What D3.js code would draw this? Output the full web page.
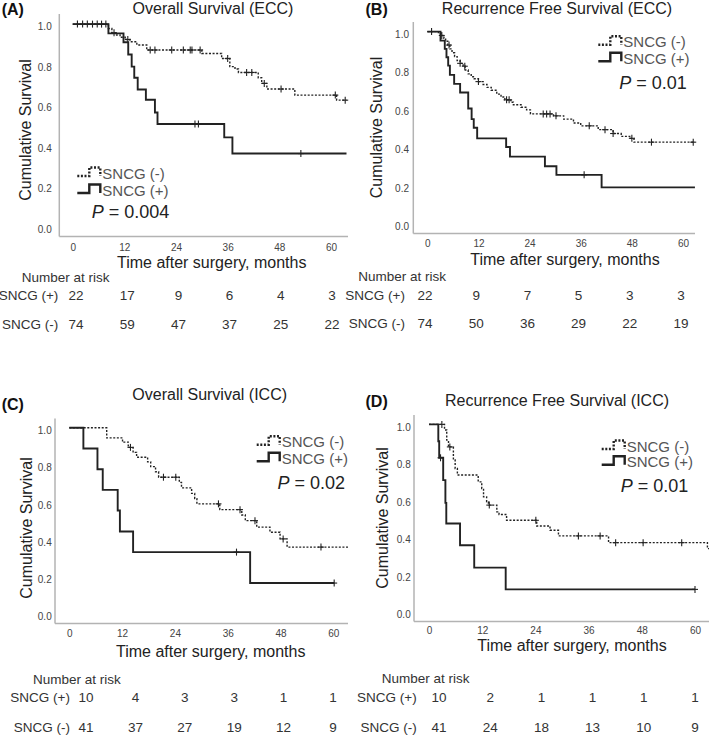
<!DOCTYPE html>
<html><head><meta charset="utf-8">
<script src="https://cdn.jsdelivr.net/npm/d3@7"></script>
<style>
html,body{margin:0;padding:0;background:#fff;}
svg text{font-family:"Liberation Sans", Arial, sans-serif;}
</style></head><body>
<svg id="chart" width="709" height="736"></svg>
<script>
// ---------------- DATA ----------------
const monthTicks = [0, 12, 24, 36, 48, 60];
const survTicks = [0, 0.2, 0.4, 0.6, 0.8, 1.0];
const panelLetters = ["(A)", "(B)", "(C)", "(D)"];
const panelTitles = ["Overall Survival (ECC)", "Recurrence Free Survival (ECC)", "Overall Survival (ICC)", "Recurrence Free Survival (ICC)"];
const pValues = ["0.004", "0.01", "0.02", "0.01"];
const groupLabels = ["SNCG (-)", "SNCG (+)"];
const riskRowLabels = ["SNCG (+)", "SNCG (-)"];
const xAxisTitle = "Time after surgery, months";
const yAxisTitle = "Cumulative Survival";
const riskTitle = "Number at risk";

// Panel A: Overall Survival (ECC)
const aNegTimes = [8.3, 9.1, 10.2, 11.0, 12.2, 13.3, 14.9, 17.2, 30.0, 34.6, 36.5, 37.7, 38.5, 43.1, 43.9, 45.1, 51.6, 61.3];
const aNegSurv  = [0.978, 0.957, 0.946, 0.935, 0.924, 0.913, 0.897, 0.872, 0.855, 0.83, 0.79, 0.778, 0.761, 0.735, 0.707, 0.679, 0.649, 0.624];
const aNegCensor = [1.1, 2.3, 3.4, 4.6, 5.7, 6.7, 7.7, 9.6, 12.8, 18.0, 19.1, 23.0, 25.7, 27.3, 27.7, 29.6, 36.0, 40.4, 41.6, 44.5, 48.4, 61.0, 63.3];
const aPosTimes = [8.3, 11.8, 12.9, 13.7, 14.3, 15.1, 17.0, 19.1, 19.7, 35.2, 37.1];
const aPosSurv  = [0.954, 0.91, 0.85, 0.79, 0.735, 0.677, 0.626, 0.563, 0.506, 0.44, 0.36];
const aPosCensor = [28.4, 29.2, 53.0];
const aEnd = 63.6;
const riskAPos = [22, 17, 9, 6, 4, 3];
const riskANeg = [74, 59, 47, 37, 25, 22];

// Panel B: Recurrence Free Survival (ECC)
const bNegTimes = [2.6, 3.4, 3.9, 4.3, 4.8, 5.3, 5.8, 6.4, 7.0, 7.7, 8.4, 8.9, 9.6, 10.3, 11.0, 12.0, 13.1, 14.0, 15.0, 16.3, 17.3, 18.2, 19.6, 20.2, 22.0, 23.3, 24.2, 29.6, 32.0, 34.3, 36.0, 40.1, 43.6, 45.5, 47.5, 48.5];
const bNegSurv  = [0.99, 0.98, 0.965, 0.95, 0.93, 0.91, 0.89, 0.87, 0.85, 0.835, 0.82, 0.80, 0.78, 0.765, 0.755, 0.74, 0.725, 0.71, 0.695, 0.675, 0.66, 0.645, 0.633, 0.62, 0.607, 0.593, 0.572, 0.562, 0.545, 0.525, 0.51, 0.49, 0.47, 0.455, 0.445, 0.425];
const bNegCensor = [1.0, 3.4, 5.1, 7.7, 8.8, 12.0, 18.6, 19.2, 27.2, 28.0, 28.8, 30.2, 38.0, 41.7, 43.6, 48.0, 52.6, 62.4];
const bPosTimes = [3.1, 4.1, 4.5, 4.9, 5.3, 6.3, 7.7, 9.6, 10.4, 10.9, 11.7, 18.5, 19.4, 27.6, 30.3, 40.9];
const bPosSurv  = [0.953, 0.91, 0.867, 0.823, 0.775, 0.728, 0.683, 0.60, 0.545, 0.50, 0.445, 0.40, 0.35, 0.30, 0.255, 0.19];
const bPosCensor = [36.8];
const bEnd = 62.8;
const riskBPos = [22, 9, 7, 5, 3, 3];
const riskBNeg = [74, 50, 36, 29, 22, 19];

// Panel C: Overall Survival (ICC)
const cNegTimes = [8.5, 12.1, 13.4, 14.5, 15.3, 17.8, 18.5, 19.6, 20.3, 25.0, 25.5, 27.8, 28.5, 29.0, 34.2, 39.2, 40.0, 42.6, 45.6, 47.9, 49.5];
const cNegSurv  = [0.946, 0.923, 0.895, 0.868, 0.842, 0.817, 0.792, 0.764, 0.735, 0.707, 0.678, 0.648, 0.62, 0.592, 0.561, 0.532, 0.502, 0.467, 0.44, 0.404, 0.36];
const cNegCensor = [13.9, 21.4, 24.2, 33.9, 38.8, 42.2, 48.6, 57.2];
const cPosTimes = [3.2, 6.4, 7.6, 11.0, 11.5, 14.5, 41.1];
const cPosSurv  = [0.889, 0.778, 0.667, 0.556, 0.444, 0.333, 0.167];
const cPosCensor = [38.0, 60.2];
const cNegEnd = 63.4, cPosEnd = 60.2;
const riskCPos = [10, 4, 3, 3, 1, 1];
const riskCNeg = [41, 37, 27, 19, 12, 9];

// Panel D: Recurrence Free Survival (ICC)
const dNegTimes = [3.5, 4.0, 4.4, 5.5, 5.9, 6.4, 11.1, 11.9, 12.3, 13.0, 13.4, 15.3, 15.8, 17.5, 24.3, 27.3, 29.2, 40.5, 62.8];
const dNegSurv  = [0.97, 0.916, 0.88, 0.81, 0.765, 0.73, 0.694, 0.658, 0.614, 0.587, 0.57, 0.534, 0.52, 0.489, 0.459, 0.436, 0.406, 0.37, 0.338];
const dNegCensor = [2.9, 4.7, 13.6, 24.1, 33.7, 38.6, 42.1, 48.3, 57.0];
const dPosTimes = [2.1, 2.3, 3.2, 3.7, 3.9, 7.0, 10.2, 17.3];
const dPosSurv  = [0.91, 0.822, 0.703, 0.582, 0.472, 0.356, 0.237, 0.121];
const dPosCensor = [2.6, 60.0];
const dNegEnd = 63.3, dPosEnd = 60.0;
const riskDPos = [10, 2, 1, 1, 1, 1];
const riskDNeg = [41, 24, 18, 13, 10, 9];

// ---------------- LAYOUT ----------------
const panels = [
  {neg:{t:aNegTimes,s:aNegSurv,c:aNegCensor,end:aEnd}, pos:{t:aPosTimes,s:aPosSurv,c:aPosCensor,end:aEnd}, risk:[riskAPos,riskANeg],
   yAxisX:59.3, xRight:348, xZero:72.7, x60:331, yBottom:236.5, yTop:14, xPad:7.5, yPad:7.6,
   letter:[1.7,15], title:[213,13.5], xTitle:[211.7,267.5], yTitle:[25.8,130],
   leg:{x:77.3, yNeg:173, yPos:190}, p:{x:91.7, y:212.3, anchor:"start"},
   rk:{tx:21.7, ty:277, lx:58.3, y1:295.7, y2:324.3, c0:76, c1:332}},
  {neg:{t:bNegTimes,s:bNegSurv,c:bNegCensor,end:bEnd}, pos:{t:bPosTimes,s:bPosSurv,c:bPosCensor,end:bEnd}, risk:[riskBPos,riskBNeg],
   yAxisX:413.3, xRight:695, xZero:427.3, x60:683, yBottom:233.5, yTop:22, xPad:6.5, yPad:4.3,
   letter:[365.5,15], title:[557,14], xTitle:[565,265], yTitle:[376.7,127.5],
   leg:{x:598.3, yNeg:41.7, yPos:58.3}, p:{x:686.7, y:83.3, anchor:"end"},
   rk:{tx:358.3, ty:276.7, lx:405, y1:295, y2:323.3, c0:425, c1:681}},
  {neg:{t:cNegTimes,s:cNegSurv,c:cNegCensor,end:cNegEnd}, pos:{t:cPosTimes,s:cPosSurv,c:cPosCensor,end:cPosEnd}, risk:[riskCPos,riskCNeg],
   yAxisX:55, xRight:348, xZero:69.3, x60:333.3, yBottom:623.5, yTop:418.5, xPad:6.3, yPad:3.3,
   letter:[1.7,409.5], title:[209.7,399.5], xTitle:[210.7,656.5], yTitle:[26,528],
   leg:{x:256.7, yNeg:441.7, yPos:458.3}, p:{x:345, y:483.3, anchor:"end"},
   rk:{tx:33, ty:679, lx:70, y1:697.3, y2:727.3, c0:86, c1:333}},
  {neg:{t:dNegTimes,s:dNegSurv,c:dNegCensor,end:dNegEnd}, pos:{t:dPosTimes,s:dPosSurv,c:dPosCensor,end:dPosEnd}, risk:[riskDPos,riskDNeg],
   yAxisX:414, xRight:709, xZero:429, x60:695, yBottom:621.5, yTop:415, xPad:5, yPad:3.3,
   letter:[365.5,406.5], title:[557,405.5], xTitle:[572,651], yTitle:[382.5,518],
   leg:{x:601.7, yNeg:446, yPos:461.7}, p:{x:688.3, y:486, anchor:"end"},
   rk:{tx:381.7, ty:678.3, lx:416.7, y1:697.3, y2:727.3, c0:439, c1:695}}
];

const svg = d3.select("#chart");
const ink = "#222";
const axisGrey = "#b3b3b3";
const legendGrey = "#555";

function survAt(times, surv, t) {
  let s = 1;
  for (let i = 0; i < times.length; i++) { if (times[i] <= t) s = surv[i]; }
  return s;
}

panels.forEach((P, i) => {
  const g = svg.append("g");
  const x = d3.scaleLinear().domain([0, 60]).range([P.xZero, P.x60]);
  const y = d3.scaleLinear().domain([-0.05, 1.05]).range([P.yBottom, P.yTop]);

  // axis lines
  g.append("line").attr("x1", P.yAxisX).attr("x2", P.yAxisX).attr("y1", P.yTop).attr("y2", P.yBottom)
    .attr("stroke", axisGrey).attr("stroke-width", 1.5);
  g.append("line").attr("x1", P.yAxisX).attr("x2", P.xRight).attr("y1", P.yBottom).attr("y2", P.yBottom)
    .attr("stroke", axisGrey).attr("stroke-width", 1.5);

  // axes (labels only)
  const xa = g.append("g").attr("transform", `translate(0,${P.yBottom})`)
    .call(d3.axisBottom(x).tickValues(monthTicks).tickSize(0).tickPadding(P.xPad).tickFormat(d3.format("d")));
  xa.select(".domain").remove();
  xa.selectAll("text").attr("font-size", 10).attr("fill", "#444").style("font-family", '"Liberation Sans", Arial, sans-serif');

  const ya = g.append("g").attr("transform", `translate(${P.yAxisX},2.5)`)
    .call(d3.axisLeft(y).tickValues(survTicks).tickSize(0).tickPadding(P.yPad).tickFormat(d3.format(".1f")));
  ya.select(".domain").remove();
  ya.selectAll("text").attr("font-size", 10).attr("fill", "#444").style("font-family", '"Liberation Sans", Arial, sans-serif');

  // curves
  const line = d3.line().x(d => x(d[0])).y(d => y(d[1])).curve(d3.curveStepAfter);
  function ptsOf(G) {
    const pts = [[0, 1]];
    G.t.forEach((t, k) => pts.push([t, G.s[k]]));
    pts.push([G.end, G.s[G.s.length - 1]]);
    return pts;
  }
  const groups = [
    {G: P.neg, dash: "2,1.6", w: 1.4},
    {G: P.pos, dash: null, w: 1.9}
  ];
  groups.forEach(({G, dash, w}) => {
    g.append("path").attr("d", line(ptsOf(G))).attr("fill", "none").attr("stroke", ink)
      .attr("stroke-width", w).attr("stroke-dasharray", dash);
    G.c.forEach(ct => {
      const cx = x(ct), cy = y(survAt(G.t, G.s, ct));
      g.append("line").attr("x1", cx).attr("x2", cx).attr("y1", cy - 3.5).attr("y2", cy + 3.5).attr("stroke", ink).attr("stroke-width", 1.1);
      g.append("line").attr("x1", cx - 3).attr("x2", cx + 3).attr("y1", cy).attr("y2", cy).attr("stroke", ink).attr("stroke-width", 1.1);
    });
  });

  // titles
  g.append("text").attr("x", P.letter[0]).attr("y", P.letter[1]).attr("font-size", 16).attr("font-weight", "bold").attr("fill", "#111").text(panelLetters[i]);
  g.append("text").attr("x", P.title[0]).attr("y", P.title[1]).attr("text-anchor", "middle").attr("font-size", 16).attr("fill", "#222").text(panelTitles[i]);
  g.append("text").attr("x", P.xTitle[0]).attr("y", P.xTitle[1]).attr("text-anchor", "middle").attr("font-size", 16).attr("fill", "#222").text(xAxisTitle);
  g.append("text").attr("transform", `translate(${P.yTitle[0]},${P.yTitle[1]}) rotate(-90)`).attr("text-anchor", "middle")
    .attr("dominant-baseline", "central").attr("font-size", 16).attr("fill", "#222").text(yAxisTitle);

  // legend
  const L = P.leg;
  [[L.yNeg, "2,1.6", groupLabels[0]], [L.yPos, null, groupLabels[1]]].forEach(([cy, dash, lab]) => {
    const yb = cy + 3, yt = cy - 5.5;
    g.append("path").attr("d", `M${L.x},${yb}H${L.x + 12}V${yt}H${L.x + 23}V${yb}`)
      .attr("fill", "none").attr("stroke", ink).attr("stroke-width", 2.4).attr("stroke-dasharray", dash);
    g.append("text").attr("x", L.x + 25).attr("y", cy).attr("dominant-baseline", "central")
      .attr("font-size", 15).attr("fill", legendGrey).text(lab);
  });
  const pt = g.append("text").attr("x", P.p.x).attr("y", P.p.y).attr("dominant-baseline", "central")
    .attr("text-anchor", P.p.anchor).attr("font-size", 18).attr("fill", "#222");
  pt.append("tspan").attr("font-style", "italic").text("P");
  pt.append("tspan").text(" = " + pValues[i]);

  // risk table
  const R = P.rk;
  const rx = d3.scaleLinear().domain([0, 60]).range([R.c0, R.c1]);
  g.append("text").attr("x", R.tx).attr("y", R.ty).attr("dominant-baseline", "central").attr("font-size", 13.5).attr("fill", "#333").text(riskTitle);
  [R.y1, R.y2].forEach((ry, k) => {
    g.append("text").attr("x", R.lx).attr("y", ry).attr("dominant-baseline", "central").attr("text-anchor", "end")
      .attr("font-size", 13.5).attr("fill", "#333").text(riskRowLabels[k]);
    P.risk[k].forEach((v, j) => {
      g.append("text").attr("x", rx(monthTicks[j])).attr("y", ry).attr("dominant-baseline", "central").attr("text-anchor", "middle")
        .attr("font-size", 13.5).attr("fill", "#333").text(v);
    });
  });
});
</script>
</body></html>
